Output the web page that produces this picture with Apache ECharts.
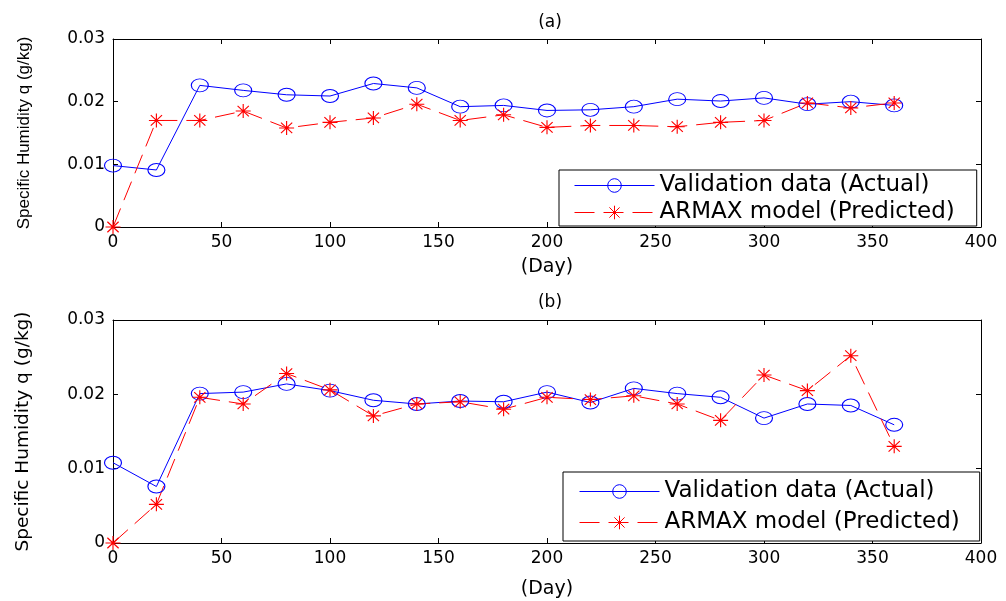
<!DOCTYPE html>
<html>
<head>
<meta charset="utf-8">
<script src="https://cdn.jsdelivr.net/npm/echarts@6/dist/echarts.min.js"></script>
<style>
html,body{margin:0;padding:0;background:#fff;}
#chart{width:1006px;height:601px;}
</style>
</head>
<body>
<div id="chart"></div>
<script>
const days = [0,20,40,60,80,100,120,140,160,180,200,220,240,260,280,300,320,340,360];
const xTicks = [0,50,100,150,200,250,300,350,400];
const yTicks = [0,0.01,0.02,0.03];
const seriesNames = ['Validation data (Actual)', 'ARMAX model (Predicted)'];
const titles = ['(a)', '(b)'];
const xName = '(Day)';
const yName = 'Specific Humidity q (g/kg)';

const actualA = [0.0098,0.0091,0.0226,0.0218,0.0211,0.0209,0.0229,0.0222,0.0192,0.0194,0.0186,0.0187,0.0192,0.0204,0.0201,0.0206,0.0196,0.0200,0.0194];
const predictedA = [0,0.0170,0.0170,0.0185,0.0158,0.0167,0.0174,0.0196,0.0170,0.0179,0.0159,0.0162,0.0162,0.0160,0.0167,0.0170,0.0198,0.0190,0.0198];
const actualB = [0.0108,0.0076,0.0201,0.0203,0.0214,0.0205,0.0192,0.0187,0.0191,0.0190,0.0203,0.0189,0.0208,0.0201,0.0196,0.0168,0.0187,0.0185,0.0159];
const predictedB = [0,0.0052,0.0196,0.0187,0.0228,0.0206,0.0171,0.0187,0.0190,0.0180,0.0196,0.0193,0.0198,0.0187,0.0165,0.0226,0.0205,0.0252,0.0130];

const pairs = (vals) => days.map((d, i) => [d, vals[i]]);
const FONT = 'DejaVu Sans';
const STAR = 'path://M0,-1L0,1M-1,0L1,0M-0.75,-0.75L0.75,0.75M-0.75,0.75L0.75,-0.75';

function xAx(gi, pos, main, nameGap) {
  return {
    type: 'value', gridIndex: gi, position: pos,
    min: xTicks[0], max: xTicks[xTicks.length-1], interval: 50,
    name: main ? xName : '', nameLocation: 'middle', nameGap: nameGap,
    nameTextStyle: {fontFamily: FONT, fontSize: 19, color: '#000'},
    axisLine: {show: true, onZero: false, lineStyle: {color: '#000', width: 1}},
    axisTick: {show: true, inside: true, length: 5, lineStyle: {color: '#000'}},
    axisLabel: {show: main, fontFamily: FONT, fontSize: 17, color: '#000', margin: 7},
    splitLine: {show: false}
  };
}
function yAx(gi, pos, main, nameFont, nameSize) {
  return {
    type: 'value', gridIndex: gi, position: pos,
    min: yTicks[0], max: yTicks[yTicks.length-1], interval: 0.01,
    name: main ? yName : '', nameLocation: 'middle', nameGap: 80,
    nameTextStyle: {fontFamily: nameFont, fontSize: nameSize, color: '#000'},
    axisLine: {show: true, onZero: false, lineStyle: {color: '#000', width: 1}},
    axisTick: {show: true, inside: true, length: 5, lineStyle: {color: '#000'}},
    axisLabel: {show: main, fontFamily: FONT, fontSize: 17, color: '#000', margin: 8},
    splitLine: {show: false}
  };
}
function actualSeries(xi, yi, vals) {
  return {
    name: seriesNames[0], type: 'line', xAxisIndex: xi, yAxisIndex: yi,
    data: pairs(vals), clip: false,
    symbol: 'circle', symbolSize: [17, 13],
    lineStyle: {color: '#0000ff', width: 1},
    itemStyle: {color: 'rgba(255,255,255,0)', borderColor: '#0000ff', borderWidth: 1},
    emphasis: {disabled: true}, animation: false
  };
}
function predSeries(xi, yi, vals) {
  return {
    name: seriesNames[1], type: 'line', xAxisIndex: xi, yAxisIndex: yi,
    data: pairs(vals), clip: false,
    symbol: STAR, symbolSize: [15, 14],
    lineStyle: {color: '#ff0000', width: 1, type: [20, 9]},
    itemStyle: {color: '#ff0000', borderColor: '#ff0000', borderWidth: 1.1},
    emphasis: {disabled: true}, animation: false
  };
}
function legendAt(left, top, gap, pad) {
  return {
    orient: 'vertical', left: left, top: top,
    data: seriesNames,
    itemWidth: 80, itemHeight: 17, itemGap: gap, padding: pad, itemTextGap: 9,
    itemStyle: {borderWidth: 1},
    lineStyle: {width: 1},
    backgroundColor: '#fff', borderColor: '#000', borderWidth: 1, borderRadius: 0,
    textStyle: {fontFamily: FONT, fontSize: 23, color: '#000'},
    selectedMode: false
  };
}

const chart = echarts.init(document.getElementById('chart'), null, {renderer: 'canvas'});
chart.setOption({
  animation: false,
  backgroundColor: '#fff',
  title: [
    {text: titles[0], left: 545, top: 9, textAlign: 'center', textStyle: {fontFamily: FONT, fontSize: 17, fontWeight: 'normal', color: '#000'}},
    {text: titles[1], left: 545, top: 289, textAlign: 'center', textStyle: {fontFamily: FONT, fontSize: 17, fontWeight: 'normal', color: '#000'}}
  ],
  grid: [
    {left: 113, right: 25, top: 39, height: 188},
    {left: 113, right: 25, top: 320, height: 223}
  ],
  xAxis: [xAx(0, 'bottom', true, 31), xAx(0, 'top', false, 0), xAx(1, 'bottom', true, 37), xAx(1, 'top', false, 0)],
  yAxis: [yAx(0, 'left', true, 'Liberation Sans', 17), yAx(0, 'right', false, FONT, 17), yAx(1, 'left', true, FONT, 18.5), yAx(1, 'right', false, FONT, 17)],
  legend: [legendAt(559, 170, 4, [4, 22, 2, 15]), legendAt(563, 472, 8, [8, 20, 7, 16])],
  series: [
    actualSeries(0, 0, actualA), predSeries(0, 0, predictedA),
    actualSeries(2, 2, actualB), predSeries(2, 2, predictedB)
  ]
});
</script>
</body>
</html>
